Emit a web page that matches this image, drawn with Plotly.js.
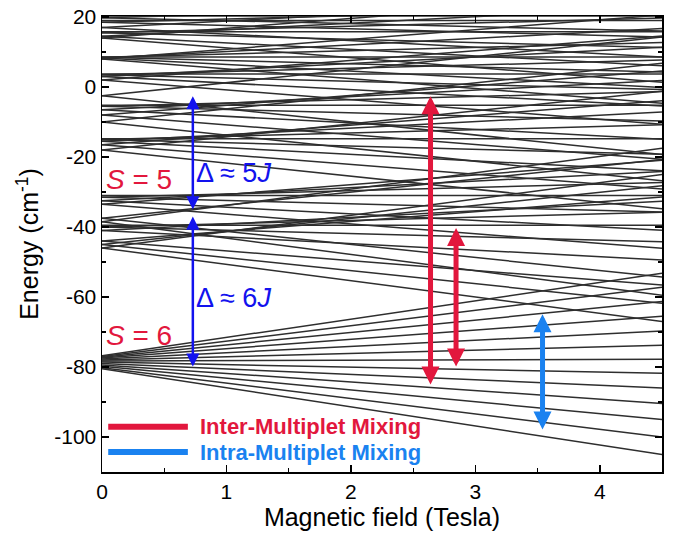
<!DOCTYPE html>
<html>
<head>
<meta charset="utf-8">
<script src="https://cdn.plot.ly/plotly-3.0.1.min.js"></script>
<style>
  html, body { margin: 0; padding: 0; background: #fff; }
  #chart { width: 678px; height: 537px; }
</style>
</head>
<body>
<div id="chart"></div>
<script>
// Magnetic field end points of every Zeeman level (Tesla)
const fieldStart = 0;
const fieldEnd = 4.5;

// Energies (cm^-1) read at B = 0 and at B = 4.5 T, per multiplet
const s6Zero = [-80.5, -80.2, -79.8, -79.4, -79.0, -78.6, -78.3, -78.0, -77.7, -77.4, -77.2, -77.0, -76.8];
const s6High = [-105.0, -100.0, -95.0, -90.4, -86.0, -81.8, -77.8, -73.8, -69.7, -65.5, -61.3, -57.2, -53.2];

const s5aZero = [-46, -45, -44, -41, -40, -39.5, -40, -41, -44, -45, -46];
const s5aHigh = [-67, -61.8, -56.6, -49.4, -44.2, -39.5, -35.8, -32.6, -31.4, -28.2, -25];

const s5bZero = [-38.5, -37.5, -33.5, -32.5, -31.5, -31, -31.5, -32.5, -33.5, -37.5, -38.5];
const s5bHigh = [-59.5, -54.3, -46.1, -40.9, -35.7, -31, -27.3, -24.1, -20.9, -20.7, -17.5];

const s4aZero = [-18, -16.5, -15.5, -15, -14.8, -15, -15.5, -16.5, -18];
const s4aHigh = [-34.8, -29.1, -23.9, -19.2, -14.8, -10.8, -7.1, -3.9, -1.2];

const s4bZero = [-10, -8, -6.5, -5.5, -5.2, -5.5, -6.5, -8, -10];
const s4bHigh = [-26.8, -20.6, -14.9, -9.7, -5.2, -1.3, 1.9, 4.6, 6.8];

const s4cZero = [-2.5, 2, 3, 3.5, 3.7, 3.5, 3, 2, -2.5];
const s4cHigh = [-19.3, -10.6, -5.4, -0.7, 3.7, 7.7, 11.4, 14.6, 14.3];

const s3aZero = [8, 8.3, 8.5, 8.6, 8.5, 8.3, 8];
const s3aHigh = [-4.6, -0.1, 4.3, 8.6, 12.7, 16.7, 20.6];

const s3bZero = [14, 14.5, 15.5, 15.8, 15.5, 14.5, 14];
const s3bHigh = [1.4, 6.1, 11.3, 15.8, 19.7, 22.9, 26.6];

const s2Zero = [17, 18.5, 19, 18.5, 17];
const s2High = [8.6, 14.3, 19, 22.7, 25.4];

const s1Zero = [19.8, 20.3, 19.8];
const s1High = [16.0, 20.3, 24.0];

// Transition arrows: [field, upper energy, lower energy]
const deltaArrowField = 0.73;
const delta5Upper = -2.6, delta5Lower = -35.4;
const delta6Upper = -37.0, delta6Lower = -80.3;
const interArrows = [[2.64, -2.6, -85.4], [2.845, -40.3, -80.3]];
const intraArrows = [[3.54, -64.9, -98.3]];

const yTicks = [20, 0, -20, -40, -60, -80, -100];
const xTicks = [0, 1, 2, 3, 4];

const zeroAll = [].concat(s6Zero, s5aZero, s5bZero, s4aZero, s4bZero, s4cZero, s3aZero, s3bZero, s2Zero, s1Zero);
const highAll = [].concat(s6High, s5aHigh, s5bHigh, s4aHigh, s4bHigh, s4cHigh, s3aHigh, s3bHigh, s2High, s1High);

const lx = [], ly = [];
for (let i = 0; i < zeroAll.length; i++) {
  lx.push(fieldStart, fieldEnd, null);
  ly.push(zeroAll[i], highAll[i], null);
}

const RED = '#e2173d';
const BLUE = '#1212ee';
const LBLUE = '#1a82f0';
const FONT = 'Arial, "Liberation Sans", sans-serif';

const traces = [{
  x: lx, y: ly, type: 'scatter', mode: 'lines',
  line: {color: '#2e2e2e', width: 1.5},
  hoverinfo: 'skip', showlegend: false
}];

function arrow(x, y1, y2, color, width, size) {
  return {
    x: x, y: y1, ax: x, ay: y2,
    xref: 'x', yref: 'y', axref: 'x', ayref: 'y',
    text: '', showarrow: true,
    arrowhead: 2, startarrowhead: 2, arrowside: 'end+start',
    arrowsize: size, startarrowsize: size, arrowwidth: width, arrowcolor: color,
    standoff: 0, startstandoff: 0
  };
}

const annotations = [
  arrow(deltaArrowField, delta5Upper, delta5Lower, BLUE, 2.5, 1.05),
  arrow(deltaArrowField, delta6Upper, delta6Lower, BLUE, 2.5, 1.05),
];
interArrows.forEach(a => annotations.push(arrow(a[0], a[1], a[2], RED, 5, 0.72)));
intraArrows.forEach(a => annotations.push(arrow(a[0], a[1], a[2], LBLUE, 5, 0.72)));

annotations.push(
  {x: 0.02, y: -26.3, xref: 'x', yref: 'y', xanchor: 'left', yanchor: 'middle', showarrow: false,
   text: '<i>S</i> = 5', font: {family: FONT, size: 28, color: RED}},
  {x: 0.02, y: -70.9, xref: 'x', yref: 'y', xanchor: 'left', yanchor: 'middle', showarrow: false,
   text: '<i>S</i> = 6', font: {family: FONT, size: 28, color: RED}},
  {x: 0.74, y: -24.6, xref: 'x', yref: 'y', xanchor: 'left', yanchor: 'middle', showarrow: false,
   text: 'Δ ≈ 5<i>J</i>', font: {family: FONT, size: 27, color: BLUE}},
  {x: 0.74, y: -60.3, xref: 'x', yref: 'y', xanchor: 'left', yanchor: 'middle', showarrow: false,
   text: 'Δ ≈ 6<i>J</i>', font: {family: FONT, size: 27, color: BLUE}},
  {x: 0.77, y: -97.1, xref: 'x', yref: 'y', xanchor: 'left', yanchor: 'middle', showarrow: false,
   text: '<b>Inter-Multiplet Mixing</b>', font: {family: FONT, size: 22, color: RED}},
  {x: 0.77, y: -104.3, xref: 'x', yref: 'y', xanchor: 'left', yanchor: 'middle', showarrow: false,
   text: '<b>Intra-Multiplet Mixing</b>', font: {family: FONT, size: 22, color: LBLUE}}
);

const shapes = [
  {type: 'line', xref: 'x', yref: 'y', x0: 0.05, x1: 0.69, y0: -97.1, y1: -97.1, line: {color: RED, width: 6}},
  {type: 'line', xref: 'x', yref: 'y', x0: 0.05, x1: 0.69, y0: -104.3, y1: -104.3, line: {color: LBLUE, width: 6}}
];

const axisCommon = {
  showgrid: false, zeroline: false,
  showline: true, linecolor: '#000', linewidth: 1.5, mirror: 'ticks',
  ticks: 'inside', ticklen: 7, tickwidth: 1.5, tickcolor: '#000',
  tickfont: {family: FONT, size: 21, color: '#000'}
};

const layout = {
  width: 678, height: 537,
  margin: {l: 102, r: 16, t: 16, b: 65},
  paper_bgcolor: '#fff', plot_bgcolor: '#fff',
  showlegend: false,
  xaxis: Object.assign({}, axisCommon, {
    range: [0, 4.5], tickvals: xTicks, ticktext: xTicks.map(String),
    minor: {dtick: 0.5, ticks: 'inside', ticklen: 4, tickwidth: 1.2, tickcolor: '#000'},
    title: {text: 'Magnetic field (Tesla)', font: {family: FONT, size: 25, color: '#000'}, standoff: 5}
  }),
  yaxis: Object.assign({}, axisCommon, {
    range: [-110, 20.3], tickvals: yTicks, ticktext: yTicks.map(String),
    minor: {dtick: 10, ticks: 'inside', ticklen: 4, tickwidth: 1.2, tickcolor: '#000'},
    title: {text: 'Energy (cm<sup>-1</sup>)', font: {family: FONT, size: 25, color: '#000'}, standoff: 8}
  }),
  annotations: annotations,
  shapes: shapes
};

Plotly.newPlot('chart', traces, layout, {displayModeBar: false, staticPlot: true});
</script>
</body>
</html>
